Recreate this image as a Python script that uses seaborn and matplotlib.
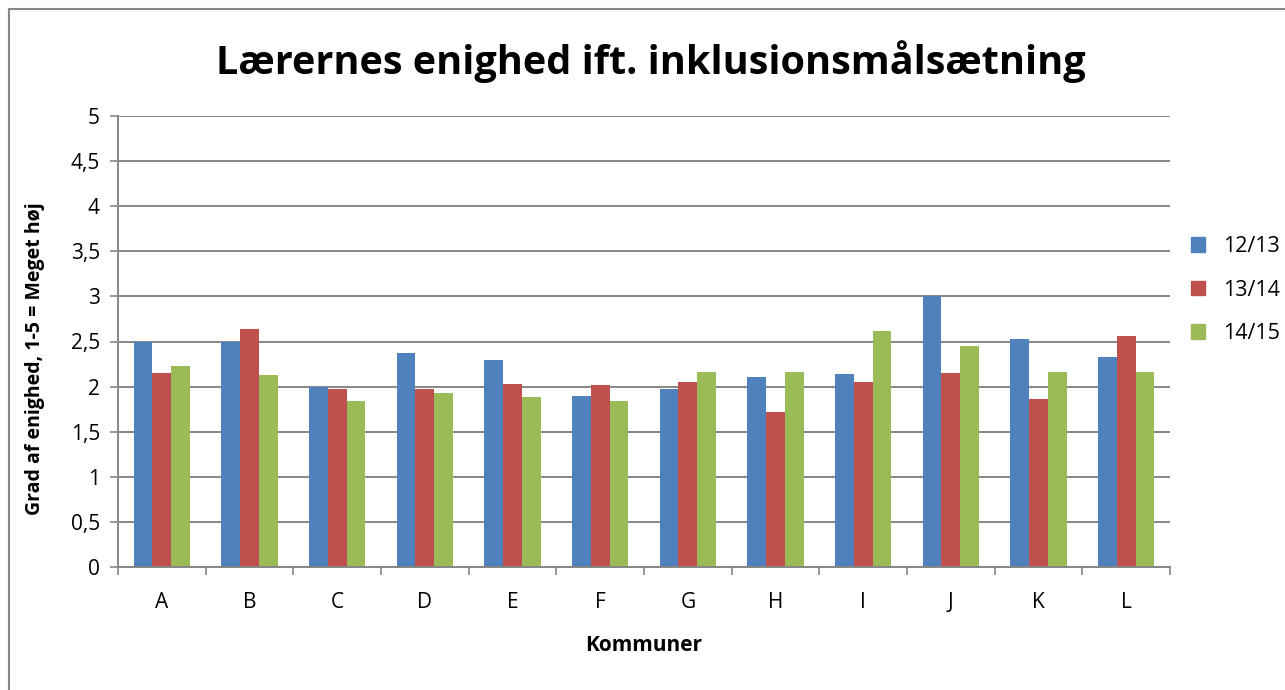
import pandas as pd
import seaborn as sns
import matplotlib.pyplot as plt
import matplotlib.patches as mpatches
import numpy as np

# data
kommuner = ['A', 'B', 'C', 'D', 'E', 'F', 'G', 'H', 'I', 'J', 'K', 'L']
aar = ['12/13', '13/14', '14/15']
v1213 = [2.50, 2.49, 2.00, 2.37, 2.30, 1.90, 1.97, 2.11, 2.14, 3.00, 2.53, 2.33]
v1314 = [2.15, 2.64, 1.97, 1.97, 2.03, 2.02, 2.05, 1.72, 2.05, 2.15, 1.86, 2.56]
v1415 = [2.23, 2.13, 1.84, 1.93, 1.88, 1.84, 2.16, 2.16, 2.62, 2.45, 2.16, 2.16]
yticks = [0, 0.5, 1, 1.5, 2, 2.5, 3, 3.5, 4, 4.5, 5]
ytick_labels = ['0', '0,5', '1', '1,5', '2', '2,5', '3', '3,5', '4', '4,5', '5']

df = pd.DataFrame({
    'Kommune': kommuner * 3,
    'Aar': [aar[0]] * 12 + [aar[1]] * 12 + [aar[2]] * 12,
    'Vaerdi': v1213 + v1314 + v1415,
})

sns.set_style('white')
plt.rcParams['font.family'] = ['Open Sans', 'DejaVu Sans']
plt.rcParams['text.color'] = 'black'
plt.rcParams['xtick.color'] = 'black'
plt.rcParams['ytick.color'] = 'black'

farver = ['#4F81BD', '#C0504D', '#9BBB59']
graa = '#868686'

fig = plt.figure(figsize=(12.85, 6.9), dpi=100)
ax = fig.add_axes([118 / 1285, 1 - 567 / 690, (1170 - 118) / 1285, (567 - 116) / 690])

sns.barplot(data=df, x='Kommune', y='Vaerdi', hue='Aar', palette=farver,
            width=0.64, ax=ax, legend=False, edgecolor='none', saturation=1)

ax.set_ylim(0, 5)
ax.set_xlim(-0.5, 11.5)
ax.set_yticks(yticks)
ax.set_yticklabels(ytick_labels, fontsize=15)
ax.tick_params(axis='x', labelsize=15, length=0, pad=18)
ax.tick_params(axis='y', length=6, width=1.2, color=graa, direction='out', pad=7, left=True)
ax.set_xticks(np.arange(-0.5, 12, 1), minor=True)
ax.tick_params(axis='x', which='minor', length=6, width=1.2, color=graa, bottom=True)
ax.yaxis.grid(True, color=graa, linewidth=1.4)
ax.set_axisbelow(True)
for s in ['top', 'right']:
    ax.spines[s].set_visible(False)
for s in ['left', 'bottom']:
    ax.spines[s].set_color(graa)
    ax.spines[s].set_linewidth(1.4)

ax.set_xlabel('Kommuner', fontsize=15, fontweight='bold', labelpad=16, color='black')
ax.set_ylabel('Grad af enighed, 1-5 = Meget høj', fontsize=14, fontweight='bold', color='black')
ax.yaxis.set_label_coords(-0.069, 0.462)

fig.text(651 / 1285, 1 - 62 / 690, 'Lærernes enighed ift. inklusionsmålsætning',
         ha='center', va='center', fontsize=28.5, fontweight='bold', color='black')

handles = [mpatches.Patch(color=c, label=l) for c, l in zip(farver, aar)]
fig.legend(handles=handles, loc='center left', bbox_to_anchor=(1172 / 1285, 1 - 290 / 690),
           frameon=False, fontsize=15.5, handlelength=0.65, handleheight=0.65,
           labelspacing=1.05, handletextpad=0.8)

# chart border, runs off the right and bottom edge
fig.patches.append(mpatches.Rectangle((9 / 1285, -0.01), 1.0, 1.01 - 9 / 690,
                                      transform=fig.transFigure, fill=False,
                                      edgecolor=graa, linewidth=1.5))

fig.savefig('out.png', dpi=100)
